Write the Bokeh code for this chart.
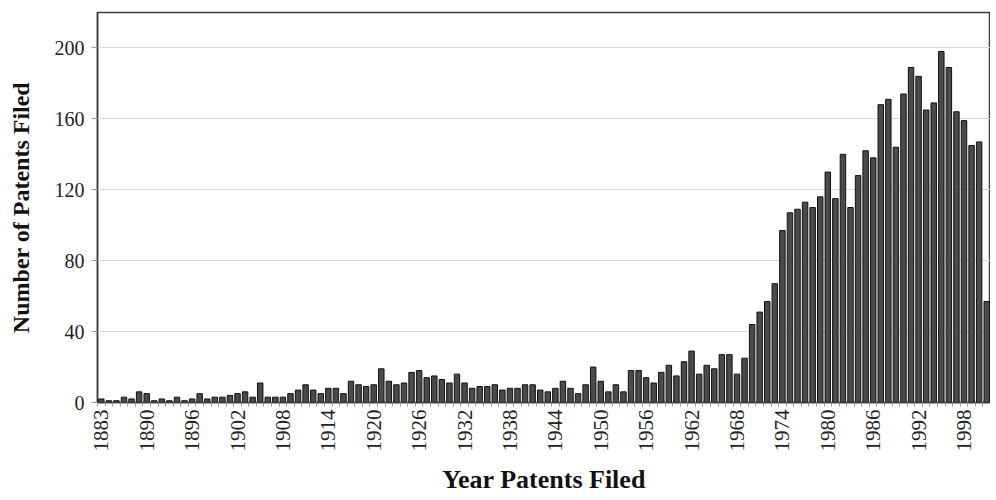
import math
from bokeh.plotting import figure
from bokeh.models import ColumnDataSource, Range1d, FixedTicker
from bokeh.embed import file_html
from bokeh.resources import INLINE

years = [1883, 1885, 1886, 1887, 1888, 1889, 1890, 1891, 1892, 1893, 1894, 1895,
         1896, 1897, 1898, 1899, 1900, 1901, 1902, 1903, 1904, 1905, 1906, 1907,
         1908, 1909, 1910, 1911, 1912, 1913, 1914, 1915, 1916, 1917, 1918, 1919,
         1920, 1921, 1922, 1923, 1924, 1925, 1926, 1927, 1928, 1929, 1930, 1931,
         1932, 1933, 1934, 1935, 1936, 1937, 1938, 1939, 1940, 1941, 1942, 1943,
         1944, 1945, 1946, 1947, 1948, 1949, 1950, 1951, 1952, 1953, 1954, 1955,
         1956, 1957, 1958, 1959, 1960, 1961, 1962, 1963, 1964, 1965, 1966, 1967,
         1968, 1969, 1970, 1971, 1972, 1973, 1974, 1975, 1976, 1977, 1978, 1979,
         1980, 1981, 1982, 1983, 1984, 1985, 1986, 1987, 1988, 1989, 1990, 1991,
         1992, 1993, 1994, 1995, 1996, 1997, 1998, 1999, 2000, 2001]

patents = [2, 1, 1, 3, 2, 6, 5, 1, 2, 1, 3, 1,
           2, 5, 2, 3, 3, 4, 5, 6, 3, 11, 3, 3,
           3, 5, 7, 10, 7, 5, 8, 8, 5, 12, 10, 9,
           10, 19, 12, 10, 11, 17, 18, 14, 15, 13, 11, 16,
           11, 8, 9, 9, 10, 7, 8, 8, 10, 10, 7, 6,
           8, 12, 8, 5, 10, 20, 12, 6, 10, 6, 18, 18,
           14, 11, 17, 21, 15, 23, 29, 16, 21, 19, 27, 27,
           16, 25, 44, 51, 57, 67, 97, 107, 109, 113, 110, 116,
           130, 115, 140, 110, 128, 142, 138, 168, 171, 144, 174, 189,
           184, 165, 169, 198, 189, 164, 159, 145, 147, 57]

tick_years = [1883, 1890, 1896, 1902, 1908, 1914, 1920, 1926, 1932, 1938, 1944,
              1950, 1956, 1962, 1968, 1974, 1980, 1986, 1992, 1998]
y_ticks = [0, 40, 80, 120, 160, 200]

FONT = "Liberation Serif"

idx = list(range(len(years)))
src = ColumnDataSource(dict(x=idx, top=patents, year=years))

p = figure(width=990, height=496, output_backend="svg", toolbar_location=None,
           x_range=Range1d(-0.5, len(years) - 0.5), y_range=Range1d(0, 220),
           min_border_left=97, min_border_right=0, min_border_top=12,
           min_border_bottom=87)
p.background_fill_color = "white"
p.border_fill_color = "white"
p.outline_line_color = "#3a3a3a"
p.outline_line_width = 1.5

p.vbar(x="x", top="top", width=0.72, source=src,
       fill_color="#4a4a4a", line_color="#111111", line_width=1)

tick_idx = [years.index(y) for y in tick_years]
p.xaxis.ticker = FixedTicker(ticks=tick_idx,
                             minor_ticks=[i - 0.5 for i in range(len(years) + 1)])
p.xaxis.major_label_overrides = {i: str(y) for i, y in zip(tick_idx, tick_years)}
p.xaxis.major_label_orientation = math.pi / 2
p.xaxis.major_tick_line_color = None
p.xaxis.major_tick_out = 4
p.xaxis.major_tick_in = 0
p.xaxis.minor_tick_out = 4
p.xaxis.minor_tick_in = 0
p.xaxis.minor_tick_line_color = "#999999"
p.xaxis.major_label_standoff = 3
p.xaxis.axis_label = "Year Patents Filed"
p.xaxis.axis_label_standoff = 10

p.yaxis.ticker = FixedTicker(ticks=y_ticks)
p.yaxis.minor_tick_line_color = None
p.yaxis.major_tick_out = 6
p.yaxis.major_tick_in = 0
p.yaxis.major_tick_line_color = "#999999"
p.yaxis.major_label_standoff = 7
p.yaxis.axis_label = "Number of Patents Filed"
p.yaxis.axis_label_standoff = 18

for ax in (p.xaxis, p.yaxis):
    ax.axis_line_color = "#3a3a3a"
    ax.axis_line_width = 1.5
    ax.major_label_text_font = FONT
    ax.major_label_text_color = "#222222"
    ax.axis_label_text_font = FONT
    ax.axis_label_text_font_style = "bold"
    ax.axis_label_text_color = "#111111"

p.xaxis.major_label_text_font_size = "21px"
p.yaxis.major_label_text_font_size = "20px"
p.xaxis.axis_label_text_font_size = "26px"
p.yaxis.axis_label_text_font_size = "24px"

p.xgrid.grid_line_color = None
p.ygrid.grid_line_color = "#d9d9d9"
p.ygrid.grid_line_width = 1

open("out.html", "w").write(file_html(p, INLINE))
